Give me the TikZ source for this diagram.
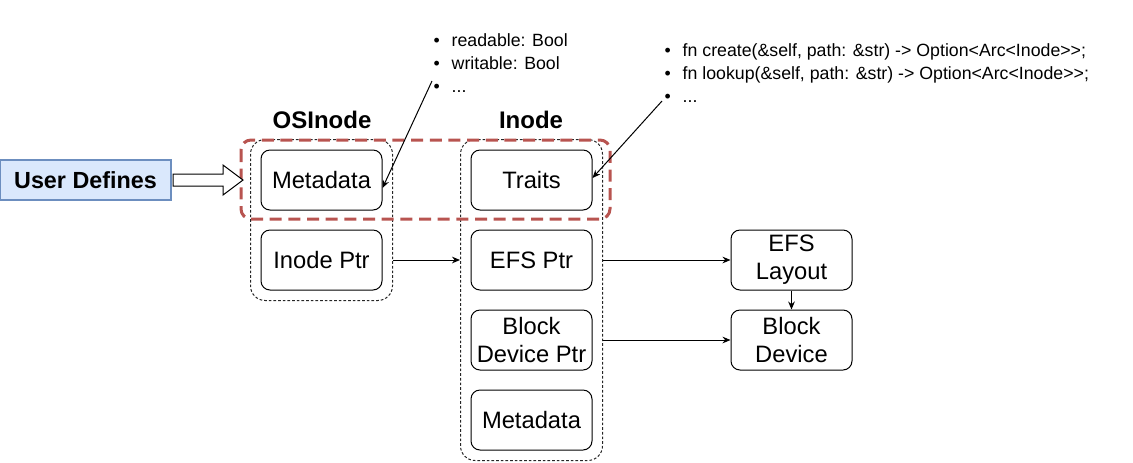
\documentclass[tikz,border=0pt]{standalone}
\usepackage{fontspec}
\setmainfont{Liberation Sans}
\usetikzlibrary{arrows.meta,fit,calc}
\definecolor{userfill}{HTML}{DAE8FC}
\definecolor{userline}{HTML}{6C8EBF}
\definecolor{zonered}{HTML}{B85450}

\begin{document}
\begin{tikzpicture}[x=0.75pt,y=-0.75pt,line width=0.75pt,
  box/.style={draw,rounded corners=6.75pt,minimum width=90.75pt,minimum height=45pt,
    align=center,inner sep=1pt,font=\fontsize{17.8}{21}\selectfont},
  group/.style={draw=black!85,dash pattern=on 2pt off 1.5pt,rounded corners=11pt,inner sep=7.5pt},
  head/.style={font=\fontsize{18}{21}\selectfont\bfseries},
  note/.style={anchor=west,inner sep=0pt,font=\fontsize{13.3}{17}\selectfont},
  conn/.style={-{Stealth[length=6pt,width=5pt]}},
  userzone/.style={draw=zonered,line width=2.25pt,dash pattern=on 9pt off 5pt,rounded corners=7.5pt}]
\useasboundingbox (0,0) rectangle (1133,462);
\node[draw=userline,fill=userfill,line width=1.5pt,minimum width=128.25pt,minimum height=30pt,
  font=\fontsize{17.5}{21}\selectfont\bfseries] (user) at (85.5,180) {User Defines};
\node[head] (oshead) at (322,120) {OSInode};
\node[head] (inhead) at (531,120) {Inode};
\node[box] (osmeta) at (321.5,180) {Metadata};
\node[box] (osptr) at (321.5,260) {Inode Ptr};
\node[box] (traits) at (531.5,180) {Traits};
\node[box] (efsptr) at (531.5,260) {EFS Ptr};
\node[box] (blkptr) at (531.5,340) {Block\\Device Ptr};
\node[box] (inmeta) at (531.5,420) {Metadata};
\node[box] (efslayout) at (791.5,260) {EFS\\Layout};
\node[box] (blkdev) at (791.5,340) {Block\\Device};
\node[group,fit=(osmeta)(osptr)] (osgroup) {};
\node[group,fit=(traits)(inmeta)] (ingroup) {};
\draw[userzone] (241,140) rectangle (610,219);
\draw[fill=white] (user.east) ++(1,-6) -- ++(50,0) -- ++(0,-9) -- ++(20,15) -- ++(-20,15)
  -- ++(0,-9) -- ++(-50,0) -- cycle;
\draw[conn] (osgroup.east |- osptr) -- (ingroup.west |- osptr);
\draw[conn] (ingroup.east |- efsptr) -- (efslayout);
\draw[conn] (ingroup.east |- blkptr) -- (blkdev);
\draw[conn] (efslayout) -- (blkdev);
\node[note] (rwnote) at (433,65) {\begin{tabular}{@{}l@{\hspace{9pt}}l@{}}
  \textbullet & readable: Bool\\
  \textbullet & writable: Bool\\
  \textbullet & ...
\end{tabular}};
\node[note] (fnnote) at (664,75) {\begin{tabular}{@{}l@{\hspace{9pt}}l@{}}
  \textbullet & fn create(\&self, path: \&str) -> Option<Arc<Inode>{}>;\\
  \textbullet & fn lookup(\&self, path: \&str) -> Option<Arc<Inode>{}>;\\
  \textbullet & ...
\end{tabular}};
\coordinate (rwtail) at (432,81);
\coordinate (fntail) at (662,101);
\draw[conn] (rwtail) -- ($(osmeta.east)+(0,8)$);
\draw[conn] (fntail) -- ($(traits.east)+(0,-2)$);
\end{tikzpicture}
\end{document}
